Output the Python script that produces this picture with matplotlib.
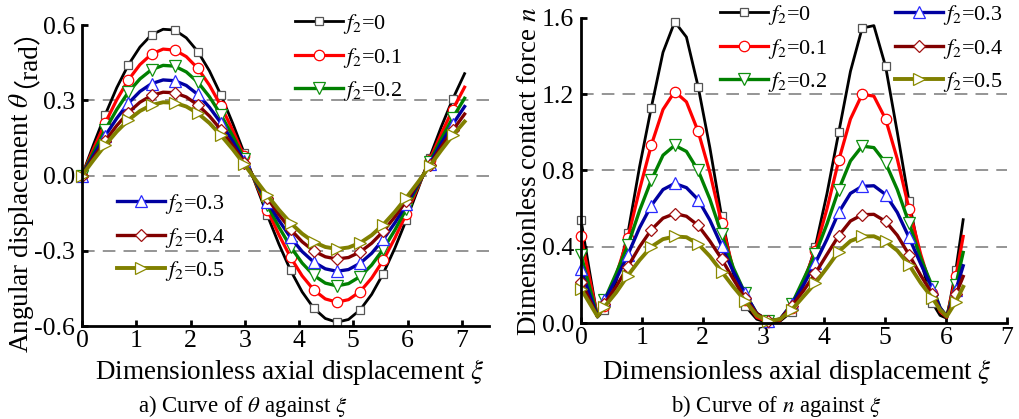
import matplotlib
matplotlib.use("Agg")
import matplotlib.pyplot as plt

plt.rcParams['font.family'] = ['Liberation Serif', 'Noto Sans CJK SC']
plt.rcParams['mathtext.fontset'] = 'stix'
plt.rcParams['axes.unicode_minus'] = False

# ---------------- data ----------------
labels = ['$f_2$=0', '$f_2$=0.1', '$f_2$=0.2', '$f_2$=0.3', '$f_2$=0.4', '$f_2$=0.5']

xi_a = [0, 0.2135, 0.427, 0.6405, 0.854, 1.0675, 1.281, 1.4945, 1.708, 1.9215, 2.135,
        2.3485, 2.562, 2.7755, 2.989, 3.2025, 3.416, 3.6295, 3.843, 4.0565, 4.27, 4.4835,
        4.697, 4.9105, 5.124, 5.3375, 5.551, 5.7645, 5.978, 6.1915, 6.405, 6.6185, 6.832, 7.05]

theta_f0 = [0, .124, .242, .350, .441, .512, .561, .583, .580, .549, .494, .417, .320, .209, .089,
            -.036, -.159, -.274, -.378, -.464, -.529, -.570, -.585, -.574, -.536, -.474, -.391,
            -.290, -.176, -.054, .071, .193, .305, .406]
theta_f1 = [0, .107, .209, .302, .381, .442, .484, .504, .500, .474, .427, .360, .277, .181, .077,
            -.031, -.137, -.237, -.326, -.400, -.456, -.492, -.505, -.495, -.463, -.409, -.338,
            -.250, -.152, -.046, .061, .166, .263, .352]
theta_f2 = [0, .093, .182, .263, .332, .385, .422, .439, .436, .413, .372, .314, .241, .158, .067,
            -.027, -.119, -.206, -.284, -.349, -.398, -.429, -.440, -.431, -.403, -.357, -.294,
            -.218, -.132, -.040, .053, .145, .230, .308]
theta_f3 = [0, .081, .158, .228, .288, .335, .366, .381, .378, .359, .323, .272, .209, .137, .058,
            -.023, -.104, -.179, -.247, -.303, -.345, -.372, -.382, -.375, -.350, -.310, -.255,
            -.189, -.115, -.035, .046, .128, .204, .275]
theta_f4 = [0, .071, .138, .199, .251, .292, .319, .332, .330, .313, .281, .237, .182, .119, .051,
            -.020, -.090, -.156, -.215, -.264, -.301, -.324, -.333, -.327, -.305, -.270, -.223,
            -.165, -.100, -.031, .041, .113, .180, .245]
theta_f5 = [0, .062, .121, .175, .221, .257, .281, .292, .290, .275, .248, .209, .160, .105, .045,
            -.018, -.079, -.137, -.189, -.232, -.265, -.285, -.293, -.287, -.269, -.238, -.196,
            -.145, -.088, -.027, .037, .100, .160, .215]

xi_b = [0, 0.13, 0.27, 0.385, 0.5775, 0.77, 0.9625, 1.155, 1.3475, 1.54, 1.7325, 1.925, 2.1175,
        2.31, 2.5025, 2.695, 2.8875, 3.08, 3.2725, 3.465, 3.6575, 3.85, 4.0425, 4.235, 4.4275,
        4.62, 4.8125, 5.005, 5.1975, 5.39, 5.5825, 5.775, 5.9, 6.01, 6.16, 6.28]

n_f0 = [0.54, 0.29, 0.03, 0.07, 0.22, 0.47, 0.82, 1.13, 1.42, 1.58, 1.50, 1.24, 0.92, 0.56, 0.26,
        0.09, 0.02, 0.0, 0.01, 0.06, 0.20, 0.40, 0.68, 1.0, 1.32, 1.547, 1.56, 1.346, 1.0, 0.638,
        0.33, 0.105, 0.04, 0.025, 0.279, 0.542]
n_f1 = [0.454, 0.25, 0.035, 0.09, 0.25, 0.446, 0.70, 0.933, 1.12, 1.214, 1.16, 1.005, 0.79, 0.525,
        0.28, 0.12, 0.03, 0.005, 0.015, 0.08, 0.22, 0.38, 0.60, 0.853, 1.07, 1.20, 1.19, 1.07, 0.86,
        0.60, 0.36, 0.16, 0.06, 0.03, 0.244, 0.454]
n_f2 = [0.358, 0.20, 0.035, 0.12, 0.26, 0.407, 0.59, 0.749, 0.88, 0.932, 0.90, 0.80, 0.65, 0.468,
        0.29, 0.156, 0.05, 0.01, 0.02, 0.10, 0.23, 0.36, 0.52, 0.70, 0.85, 0.928, 0.92, 0.84, 0.70,
        0.525, 0.34, 0.19, 0.08, 0.035, 0.20, 0.37]
n_f3 = [0.283, 0.16, 0.035, 0.12, 0.23, 0.358, 0.50, 0.616, 0.70, 0.732, 0.71, 0.647, 0.54, 0.405,
        0.27, 0.156, 0.05, 0.01, 0.02, 0.10, 0.20, 0.314, 0.44, 0.58, 0.68, 0.717, 0.72, 0.674, 0.58,
        0.449, 0.31, 0.18, 0.08, 0.035, 0.174, 0.30]
n_f4 = [0.217, 0.13, 0.035, 0.10, 0.19, 0.296, 0.40, 0.489, 0.55, 0.574, 0.56, 0.512, 0.43, 0.337,
        0.23, 0.13, 0.05, 0.01, 0.02, 0.09, 0.17, 0.26, 0.36, 0.458, 0.535, 0.568, 0.57, 0.533, 0.46,
        0.358, 0.25, 0.15, 0.07, 0.035, 0.15, 0.244]
n_f5 = [0.179, 0.11, 0.035, 0.085, 0.16, 0.249, 0.33, 0.40, 0.44, 0.454, 0.45, 0.415, 0.35, 0.27,
        0.19, 0.117, 0.04, 0.01, 0.02, 0.07, 0.14, 0.209, 0.29, 0.375, 0.43, 0.454, 0.455, 0.428,
        0.38, 0.305, 0.21, 0.13, 0.07, 0.035, 0.112, 0.19]

theta_series = [theta_f0, theta_f1, theta_f2, theta_f3, theta_f4, theta_f5]
n_series = [n_f0, n_f1, n_f2, n_f3, n_f4, n_f5]

yticks_a = [-0.6, -0.3, 0.0, 0.3, 0.6]
yticks_b = [0.0, 0.4, 0.8, 1.2, 1.6]
xticks = [0, 1, 2, 3, 4, 5, 6, 7]

# ---------------- styles ----------------
line_colors = ['#000000', '#ff0000', '#008000', '#0000a0', '#800000', '#808000']
edge_colors = ['#555555', '#ff0000', '#109010', '#2a2aff', '#a01010', '#8a8a00']
markers = ['s', 'o', 'v', '^', 'D', '>']
msizes = [6.0, 7.5, 8.0, 8.0, 6.5, 8.0]
lwidths = [2.0, 2.3, 2.4, 2.4, 2.4, 2.8]

W, H = 1020, 419
fig = plt.figure(figsize=(W / 100, H / 100), dpi=100)


def px_axes(l, r, t, b):
    return fig.add_axes([l / W, 1 - b / H, (r - l) / W, (b - t) / H])


ax1 = px_axes(82, 489, 25, 326)
ax2 = px_axes(581, 1007, 18, 323)

mark_a = list(range(0, 33, 2))
mark_b = [0, 3, 5, 7, 9, 11, 13, 15, 17, 19, 21, 23, 25, 27, 29, 31, 34]

handles_a = []
handles_b = []
for i in range(6):
    h, = ax1.plot(xi_a, theta_series[i], color=line_colors[i], lw=lwidths[i], marker=markers[i],
                  ms=msizes[i], mfc='white', mec=edge_colors[i], mew=0.9, markevery=mark_a,
                  clip_on=False, zorder=3 + i)
    handles_a.append(h)
    h2, = ax2.plot(xi_b, n_series[i], color=line_colors[i], lw=lwidths[i], marker=markers[i],
                   ms=msizes[i], mfc='white', mec=edge_colors[i], mew=0.9, markevery=mark_b,
                   clip_on=False, zorder=3 + i)
    handles_b.append(h2)

tick_fs = 18.5
for ax, yt, ylim, xlim, grid in [(ax1, yticks_a, (-0.6, 0.6), (0, 7.5), [-0.3, 0.0, 0.3]),
                                 (ax2, yticks_b, (0.0, 1.6), (0, 7.0), [0.4, 0.8, 1.2])]:
    ax.set_xlim(*xlim)
    ax.set_ylim(*ylim)
    ax.set_xticks(xticks)
    ax.set_yticks(yt)
    ax.set_yticklabels(['%.1f' % v for v in yt])
    for s in ['top', 'right']:
        ax.spines[s].set_visible(False)
    for s in ['left', 'bottom']:
        ax.spines[s].set_linewidth(2.0)
        ax.spines[s].set_zorder(20)
    ax.tick_params(direction='in', length=4, width=2.0, labelsize=tick_fs, pad=3)
    ax.tick_params(axis='y', pad=5)
    for g in grid:
        ax.axhline(g, color='#8c8c8c', lw=1.3, ls=(0, (7, 4.5)), zorder=1)
    ax.set_facecolor('none')

# legends
leg_fs = 16
def make_legend(ax, hs, labs, x_px, y_px):
    lg = ax.legend(hs, labs, loc='upper left', bbox_to_anchor=(x_px / W, 1 - y_px / H),
                   bbox_transform=fig.transFigure, frameon=False, fontsize=leg_fs,
                   handlelength=2.15, handletextpad=0.0, labelspacing=0.43, borderpad=0,
                   borderaxespad=0, markerscale=1.0)
    lg.set_zorder(30)
    return lg

lgA = make_legend(ax1, handles_a[:3], labels[:3], 295, 12)
ax1.add_artist(lgA)
make_legend(ax1, handles_a[3:], labels[3:], 117, 192)

lgB = make_legend(ax2, handles_b[:3], labels[:3], 720, 3)
ax2.add_artist(lgB)
make_legend(ax2, handles_b[3:], labels[3:], 895, 3)

# axis labels
lab_fs = 19.5
fig.text(290 / W, 1 - 372 / H, r'Dimensionless axial displacement $\xi$', ha='center', va='center',
         fontsize=lab_fs)
fig.text(797 / W, 1 - 372 / H, r'Dimensionless axial displacement $\xi$', ha='center', va='center',
         fontsize=lab_fs)
fig.text(243 / W, 1 - 406 / H, r'a) Curve of $\theta$ against $\xi$', ha='center', va='center',
         fontsize=16.5)
fig.text(777 / W, 1 - 406 / H, r'b) Curve of $n$ against $\xi$', ha='center', va='center',
         fontsize=16.5)
fig.text(530 / W, 1 - 172 / H, r'Dimensionless contact force $n$', ha='center', va='center',
         rotation=90, fontsize=lab_fs)

# left y label in two parts (mathtext part + part with CJK full-width brackets)
x1 = 28 / W
x2 = 19 / W
t1 = fig.text(x1, 0.5, r'Angular displacement $\theta$', ha='left', va='baseline',
              rotation=90, rotation_mode='anchor', fontsize=lab_fs)
t2 = fig.text(x2, 0.5, '（rad）', ha='left', va='baseline', rotation=90,
              rotation_mode='anchor', fontsize=lab_fs,
              family=['Liberation Serif', 'Noto Sans CJK SC'])
r = fig.canvas.get_renderer()
h1 = t1.get_window_extent(r).height
h2 = t2.get_window_extent(r).height
gap = 5
center = H - 176
start = center - (h1 + h2 + gap) / 2
t1.set_position((x1, start / H))
t2.set_position((x2, (start + h1 + gap) / H))

fig.savefig('out.png', dpi=100)
